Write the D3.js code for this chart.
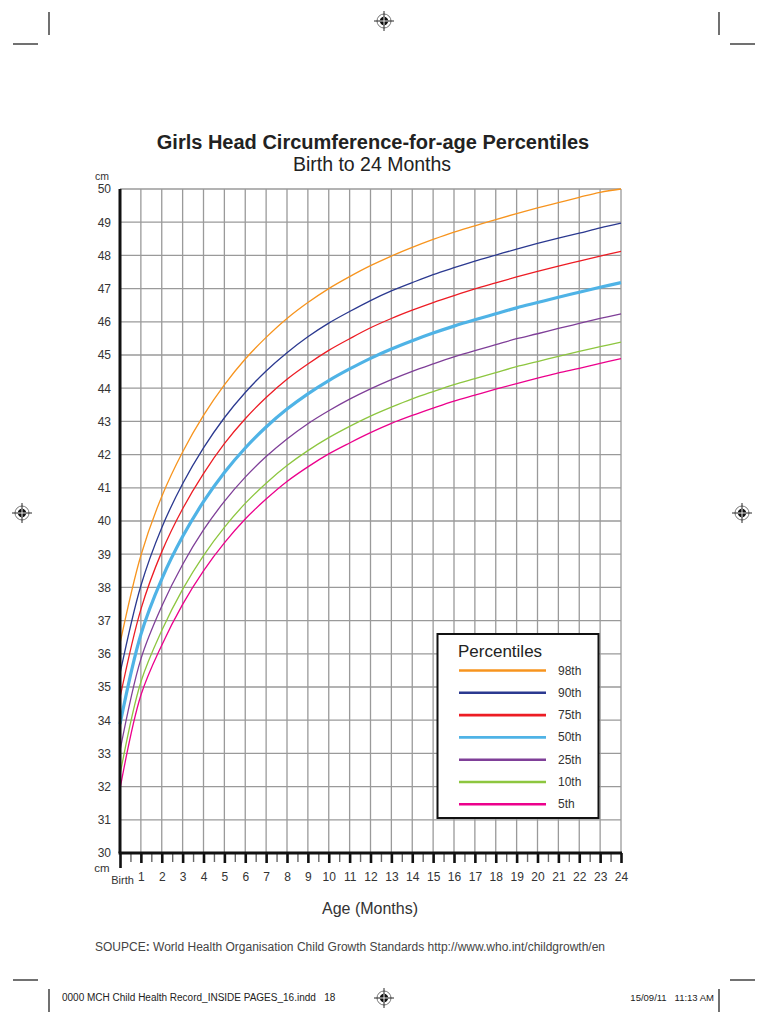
<!DOCTYPE html>
<html>
<head>
<meta charset="utf-8">
<script src="https://cdn.jsdelivr.net/npm/d3@7"></script>
<style>
  body { margin: 0; background: #fff; }
  svg { display: block; font-family: "Liberation Sans", Arial, sans-serif; }
</style>
</head>
<body>
<div id="chart"></div>
<script>
// months along the x axis (0 = Birth)
var months = [0, 1, 2, 3, 4, 5, 6, 7, 8, 9, 10, 11, 12, 13, 14, 15, 16, 17, 18, 19, 20, 21, 22, 23, 24];
var halfMonths = [0.5, 1.5, 2.5, 3.5, 4.5, 5.5, 6.5, 7.5, 8.5, 9.5, 10.5, 11.5, 12.5, 13.5, 14.5, 15.5, 16.5, 17.5, 18.5, 19.5, 20.5, 21.5, 22.5, 23.5];
var cmTicks = [30, 31, 32, 33, 34, 35, 36, 37, 38, 39, 40, 41, 42, 43, 44, 45, 46, 47, 48, 49, 50];

// percentile curves, head circumference in cm
var p98 = [36.31, 38.96, 40.74, 42.08, 43.18, 44.10, 44.88, 45.53, 46.10, 46.58, 47.00, 47.36, 47.69, 47.98, 48.24, 48.48, 48.70, 48.89, 49.08, 49.26, 49.43, 49.59, 49.75, 49.90, 50.00];
var p90 = [35.40, 38.05, 39.80, 41.12, 42.20, 43.11, 43.87, 44.52, 45.07, 45.55, 45.96, 46.31, 46.64, 46.93, 47.18, 47.42, 47.63, 47.83, 48.01, 48.19, 48.36, 48.52, 48.67, 48.83, 48.97];
var p75 = [34.68, 37.34, 39.07, 40.37, 41.43, 42.33, 43.08, 43.72, 44.27, 44.73, 45.14, 45.49, 45.82, 46.10, 46.35, 46.58, 46.79, 46.99, 47.17, 47.35, 47.52, 47.68, 47.83, 47.98, 48.12];
var p50 = [33.88, 36.58, 38.25, 39.53, 40.58, 41.46, 42.20, 42.83, 43.37, 43.83, 44.23, 44.58, 44.90, 45.18, 45.43, 45.66, 45.87, 46.06, 46.24, 46.42, 46.58, 46.74, 46.89, 47.04, 47.18];
var p25 = [33.08, 35.84, 37.43, 38.69, 39.73, 40.59, 41.32, 41.94, 42.47, 42.93, 43.32, 43.67, 43.98, 44.26, 44.51, 44.73, 44.94, 45.13, 45.31, 45.49, 45.64, 45.80, 45.95, 46.10, 46.24];
var p10 = [32.36, 35.15, 36.70, 37.94, 38.96, 39.81, 40.53, 41.14, 41.67, 42.12, 42.51, 42.85, 43.16, 43.43, 43.68, 43.90, 44.11, 44.29, 44.47, 44.65, 44.80, 44.96, 45.11, 45.25, 45.39];
var p5 = [31.93, 34.75, 36.26, 37.49, 38.50, 39.34, 40.06, 40.66, 41.19, 41.63, 42.02, 42.35, 42.66, 42.94, 43.18, 43.40, 43.61, 43.79, 43.97, 44.14, 44.30, 44.46, 44.60, 44.75, 44.89];

var seriesNames = ["98th", "90th", "75th", "50th", "25th", "10th", "5th"];
var seriesValues = [p98, p90, p75, p50, p25, p10, p5];
var seriesColors = ["#f7941e", "#2b3990", "#ed1c24", "#4fb3e6", "#7f3f98", "#8dc63f", "#ec008c"];

var svgWidth = 768;
var svgHeight = 1024;

var svg = d3.select("#chart").append("svg")
    .attr("width", svgWidth)
    .attr("height", svgHeight);

// plot area
var xScale = d3.scaleLinear().domain([0, 24]).range([120, 621]);
var yScale = d3.scaleLinear().domain([30, 50]).range([853, 189]);

// grid
var grid = svg.append("g");
grid.selectAll(".vgrid")
    .data(months.slice(1))
    .enter()
    .append("line")
    .attr("x1", d => xScale(d))
    .attr("x2", d => xScale(d))
    .attr("y1", yScale(50))
    .attr("y2", yScale(30))
    .attr("stroke", "#9a9a9a")
    .attr("stroke-width", 1.3);
grid.selectAll(".hgrid")
    .data(cmTicks.slice(1))
    .enter()
    .append("line")
    .attr("x1", xScale(0))
    .attr("x2", xScale(24))
    .attr("y1", d => yScale(d))
    .attr("y2", d => yScale(d))
    .attr("stroke", "#9a9a9a")
    .attr("stroke-width", 1.3);

// percentile curves
var line = d3.line()
    .x((d, i) => xScale(months[i]))
    .y(d => yScale(d))
    .curve(d3.curveCatmullRom.alpha(0.5));

svg.append("g").selectAll("path")
    .data(seriesValues)
    .enter()
    .append("path")
    .attr("d", d => line(d))
    .attr("fill", "none")
    .attr("stroke", (d, i) => seriesColors[i])
    .attr("stroke-width", (d, i) => seriesNames[i] === "50th" ? 3.2 : 1.3);

// y axis labels
var leftAxis = d3.axisLeft(yScale)
    .tickValues(cmTicks)
    .tickSize(0)
    .tickPadding(9)
    .tickFormat(d3.format("d"));
var yAxis = svg.append("g")
    .attr("transform", `translate(${xScale(0)}, 0)`)
    .call(leftAxis);
yAxis.select(".domain").remove();
yAxis.selectAll("text")
    .attr("font-size", "12px")
    .attr("font-family", "Liberation Sans, Arial, sans-serif")
    .attr("fill", "#333");

// x axis: half-month ticks, then month ticks with labels
var minorAxis = d3.axisBottom(xScale)
    .tickValues(halfMonths)
    .tickSize(9)
    .tickFormat("");
var xMinor = svg.append("g")
    .attr("transform", `translate(0, ${yScale(30)})`)
    .call(minorAxis);
xMinor.select(".domain").remove();
xMinor.selectAll("line").attr("stroke", "#666").attr("stroke-width", 1.4);

var bottomAxis = d3.axisBottom(xScale)
    .tickValues(months)
    .tickSize(10)
    .tickPadding(9)
    .tickFormat(d => d === 0 ? "Birth" : d);
var xAxis = svg.append("g")
    .attr("transform", `translate(0, ${yScale(30)})`)
    .call(bottomAxis);
xAxis.select(".domain").remove();
xAxis.selectAll("line").attr("stroke", "#111").attr("stroke-width", 2.6);
xAxis.selectAll("text")
    .attr("font-size", "12px")
    .attr("font-family", "Liberation Sans, Arial, sans-serif")
    .attr("fill", "#333");
xAxis.selectAll(".tick")
    .filter(d => d === 0)
    .select("text")
    .attr("font-size", "11px")
    .attr("x", 2)
    .attr("dy", "1.05em");
xAxis.selectAll(".tick")
    .filter(d => d === 0)
    .select("line")
    .attr("y2", 15);

// axis lines
svg.append("line")
    .attr("x1", xScale(0)).attr("x2", xScale(0))
    .attr("y1", yScale(50)).attr("y2", yScale(30))
    .attr("stroke", "#111").attr("stroke-width", 3);
svg.append("line")
    .attr("x1", xScale(0) - 1.5).attr("x2", xScale(24) + 1)
    .attr("y1", yScale(30)).attr("y2", yScale(30))
    .attr("stroke", "#111").attr("stroke-width", 3);

// cm labels
svg.append("text")
    .attr("x", 102).attr("y", 180)
    .attr("text-anchor", "middle")
    .attr("font-size", "10.5px")
    .attr("fill", "#333")
    .text("cm");
svg.append("text")
    .attr("x", 102).attr("y", 872)
    .attr("text-anchor", "middle")
    .attr("font-size", "11.5px")
    .attr("fill", "#333")
    .text("cm");

// titles
svg.append("text")
    .attr("x", 373).attr("y", 149)
    .attr("text-anchor", "middle")
    .attr("font-size", "20px")
    .attr("font-weight", "bold")
    .attr("fill", "#222")
    .text("Girls Head Circumference-for-age Percentiles");
svg.append("text")
    .attr("x", 372).attr("y", 171)
    .attr("text-anchor", "middle")
    .attr("font-size", "19.5px")
    .attr("fill", "#222")
    .text("Birth to 24 Months");

svg.append("text")
    .attr("x", 370).attr("y", 914)
    .attr("text-anchor", "middle")
    .attr("font-size", "16px")
    .attr("fill", "#333")
    .text("Age (Months)");

var source = svg.append("text")
    .attr("x", 95).attr("y", 951)
    .attr("font-size", "12px")
    .attr("fill", "#444");
source.append("tspan").text("SOUPCE");
source.append("tspan").attr("font-weight", "bold").text(": ");
source.append("tspan").text("World Health Organisation Child Growth Standards http://www.who.int/childgrowth/en");

// legend
var legend = svg.append("g");
legend.append("rect")
    .attr("x", 437.5).attr("y", 634)
    .attr("width", 161).attr("height", 184)
    .attr("fill", "#fff")
    .attr("stroke", "#111")
    .attr("stroke-width", 2);
legend.append("text")
    .attr("x", 458).attr("y", 657)
    .attr("font-size", "17px")
    .attr("fill", "#222")
    .text("Percentiles");
var rows = legend.selectAll(".row")
    .data(seriesNames)
    .enter()
    .append("g")
    .attr("transform", (d, i) => `translate(0, ${670.5 + i * 22.3})`);
rows.append("line")
    .attr("x1", 459).attr("x2", 546)
    .attr("stroke", (d, i) => seriesColors[i])
    .attr("stroke-width", 2.6);
rows.append("text")
    .attr("x", 558).attr("y", 4)
    .attr("font-size", "12px")
    .attr("fill", "#333")
    .text(d => d);

// print marks
var marks = svg.append("g").attr("stroke", "#111").attr("stroke-width", 1.2);
marks.append("line").attr("x1", 49).attr("x2", 49).attr("y1", 12).attr("y2", 35);
marks.append("line").attr("x1", 13).attr("x2", 38).attr("y1", 44).attr("y2", 44);
marks.append("line").attr("x1", 719).attr("x2", 719).attr("y1", 12).attr("y2", 35);
marks.append("line").attr("x1", 730).attr("x2", 755).attr("y1", 44).attr("y2", 44);
marks.append("line").attr("x1", 49).attr("x2", 49).attr("y1", 989).attr("y2", 1012);
marks.append("line").attr("x1", 13).attr("x2", 38).attr("y1", 980).attr("y2", 980);
marks.append("line").attr("x1", 719).attr("x2", 719).attr("y1", 989).attr("y2", 1012);
marks.append("line").attr("x1", 730).attr("x2", 755).attr("y1", 980).attr("y2", 980);

function regMark(cx, cy) {
    var g = svg.append("g").attr("transform", `translate(${cx}, ${cy})`);
    g.append("circle").attr("r", 7).attr("fill", "none").attr("stroke", "#777").attr("stroke-width", 1);
    g.append("circle").attr("r", 4.2).attr("fill", "#111");
    g.append("line").attr("x1", -10).attr("x2", 10).attr("stroke", "#111").attr("stroke-width", 0.9);
    g.append("line").attr("y1", -10).attr("y2", 10).attr("stroke", "#111").attr("stroke-width", 0.9);
    g.append("line").attr("x1", -4).attr("x2", 4).attr("stroke", "#fff").attr("stroke-width", 0.9);
    g.append("line").attr("y1", -4).attr("y2", 4).attr("stroke", "#fff").attr("stroke-width", 0.9);
}
regMark(384, 21);
regMark(22, 513);
regMark(742, 513);
regMark(384, 998);

svg.append("text")
    .attr("x", 62).attr("y", 1001)
    .attr("font-size", "10px")
    .attr("fill", "#222")
    .attr("xml:space", "preserve")
    .text("0000 MCH Child Health Record_INSIDE PAGES_16.indd   18");
svg.append("text")
    .attr("x", 714).attr("y", 1001)
    .attr("text-anchor", "end")
    .attr("font-size", "9.5px")
    .attr("fill", "#222")
    .attr("xml:space", "preserve")
    .text("15/09/11   11:13 AM");
</script>
</body>
</html>
